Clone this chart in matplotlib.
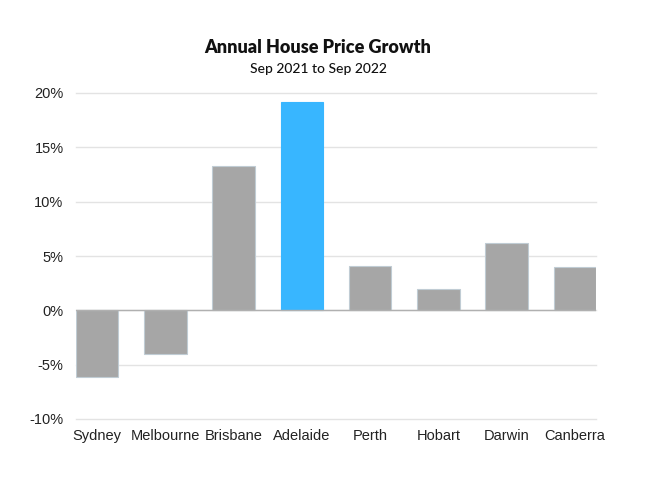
import matplotlib
matplotlib.use("Agg")
import matplotlib.pyplot as plt
from matplotlib.ticker import FuncFormatter

cities = ["Sydney", "Melbourne", "Brisbane", "Adelaide", "Perth", "Hobart", "Darwin", "Canberra"]
growth = [-6.1, -4.0, 13.3, 19.2, 4.1, 2.0, 6.2, 4.0]
highlight = "Adelaide"
yticks = [-10, -5, 0, 5, 10, 15, 20]

fig = plt.figure(figsize=(6.57, 4.78), dpi=100)
ax = fig.add_axes([76/657, 1-419/478, 520/657, 326/478])

colors = ["#38b6ff" if c == highlight else "#a6a6a6" for c in cities]
edges = ["#38b6ff" if c == highlight else "#c0ccd4" for c in cities]
ax.bar(range(len(cities)), growth, width=0.62, color=colors, edgecolor=edges, linewidth=0.8, zorder=3)

ax.set_xlim(-0.31, len(cities) - 1 + 0.31)
ax.set_ylim(-10, 20)
ax.set_yticks(yticks)
ax.yaxis.set_major_formatter(FuncFormatter(lambda v, p: f"{int(v)}%"))
ax.grid(axis="y", color="#e3e3e3", linewidth=1, zorder=0)
for gl in ax.get_ygridlines():
    gl.set_clip_on(False)
ax.axhline(0, color="#b0b0b0", linewidth=1, zorder=4)
for s in ax.spines.values():
    s.set_visible(False)
ax.set_xticks(range(len(cities)))
ax.set_xticklabels(cities)
ax.tick_params(axis="both", length=0, labelsize=10.5, colors="#222222")
ax.tick_params(axis="y", pad=9)
ax.tick_params(axis="x", pad=7)
for lbl in ax.get_xticklabels() + ax.get_yticklabels():
    lbl.set_fontfamily("Liberation Sans")

fig.text(318/657, 1-47/478, "Annual House Price Growth", ha="center", va="center",
         fontsize=13, fontweight="heavy", family="Lato", color="#111111")
fig.text(318/657, 1-69/478, "Sep 2021 to Sep 2022", ha="center", va="center",
         fontsize=10, fontweight="medium", family="Lato", color="#111111")

fig.savefig("out.png", dpi=100)
